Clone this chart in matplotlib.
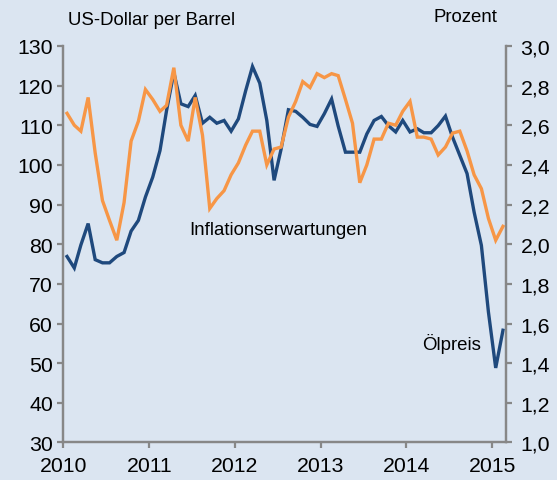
import matplotlib
matplotlib.use("Agg")
import matplotlib.pyplot as plt
import matplotlib.dates as mdates
import pandas as pd

plt.rcParams['font.family'] = ['Liberation Sans', 'DejaVu Sans']

# monthly values, Jan 2010 - Feb 2015
oil_price = [
    76.9, 74.0, 79.8, 85.2, 76.1, 75.3, 75.3, 76.9, 77.9, 83.3, 86.0, 91.9,
    96.9, 103.6, 113.7, 123.3, 115.4, 114.7, 117.5, 110.5, 112.0, 110.5, 111.2, 108.5,
    111.6, 118.7, 124.8, 120.6, 111.2, 96.1, 104.0, 113.9, 113.5, 112.0, 110.2, 109.7,
    112.9, 116.6, 109.8, 103.2, 103.2, 103.2, 107.8, 111.2, 112.2, 109.9, 108.3, 111.2,
    108.3, 109.1, 108.1, 108.1, 109.9, 112.3, 107.0, 102.4, 97.8, 88.1, 79.7, 62.9,
    48.8, 58.3,
]
inflation_exp = [
    2.66, 2.60, 2.57, 2.74, 2.46, 2.22, 2.12, 2.02, 2.21, 2.52, 2.62, 2.78,
    2.73, 2.67, 2.70, 2.89, 2.60, 2.52, 2.74, 2.55, 2.18, 2.23, 2.27, 2.35,
    2.41, 2.50, 2.57, 2.57, 2.40, 2.48, 2.49, 2.64, 2.72, 2.82, 2.79, 2.86,
    2.84, 2.86, 2.85, 2.73, 2.61, 2.31, 2.40, 2.53, 2.53, 2.61, 2.60, 2.67,
    2.72, 2.54, 2.54, 2.53, 2.45, 2.49, 2.56, 2.57, 2.47, 2.35, 2.28, 2.13,
    2.02, 2.09,
]
left_ticks = [30, 40, 50, 60, 70, 80, 90, 100, 110, 120, 130]
right_ticks = [1.0, 1.2, 1.4, 1.6, 1.8, 2.0, 2.2, 2.4, 2.6, 2.8, 3.0]
year_ticks = [2010, 2011, 2012, 2013, 2014, 2015]

months = pd.date_range("2010-01-01", periods=len(oil_price), freq="MS") + pd.Timedelta(days=15)

bg = "#DBE5F1"
axis_gray = "#878787"
blue = "#1F497D"
orange = "#F79646"

fig = plt.figure(figsize=(5.57, 4.81), dpi=100, facecolor=bg)
ax = fig.add_axes([0.114, 0.078, 0.7945, 0.8245])
ax.set_facecolor(bg)
ax2 = ax.twinx()

ax.plot(months, oil_price, color=blue, lw=2.4, solid_joinstyle="miter")
ax2.plot(months, inflation_exp, color=orange, lw=2.4, solid_joinstyle="miter")

ax.set_xlim(pd.Timestamp("2010-01-01"), pd.Timestamp("2015-03-01"))
ax.set_ylim(30, 130)
ax2.set_ylim(1.0, 3.0)

ax.set_xticks([pd.Timestamp(f"{y}-01-01") for y in year_ticks])
ax.xaxis.set_major_formatter(mdates.DateFormatter("%Y"))
ax.set_yticks(left_ticks)
ax2.set_yticks(right_ticks)
ax2.set_yticklabels([f"{v:.1f}".replace(".", ",") for v in right_ticks])

for a in (ax, ax2):
    a.spines["top"].set_visible(False)
    for side in ("left", "right", "bottom"):
        a.spines[side].set_color(axis_gray)
        a.spines[side].set_linewidth(1.6)
    a.tick_params(direction="out", length=4.5, width=1.6, color=axis_gray,
                  labelsize=15.3, labelcolor="black")
ax.tick_params(axis="y", pad=3)
ax2.tick_params(axis="y", pad=6)
ax.tick_params(axis="x", pad=5)

fig.text(68 / 557, 1 - 25 / 481, "US-Dollar per Barrel", fontsize=13.4, va="baseline", ha="left")
fig.text(497 / 557, 1 - 22.3 / 481, "Prozent", fontsize=13.4, va="baseline", ha="right")
ax.text(pd.Timestamp("2011-06-19"), 82.6, "Inflationserwartungen", fontsize=13.4, va="baseline", ha="left")
ax.text(pd.Timestamp("2014-03-10"), 53.5, "Ölpreis", fontsize=13.4, va="baseline", ha="left")

fig.savefig("out.png", dpi=100, facecolor=bg)
